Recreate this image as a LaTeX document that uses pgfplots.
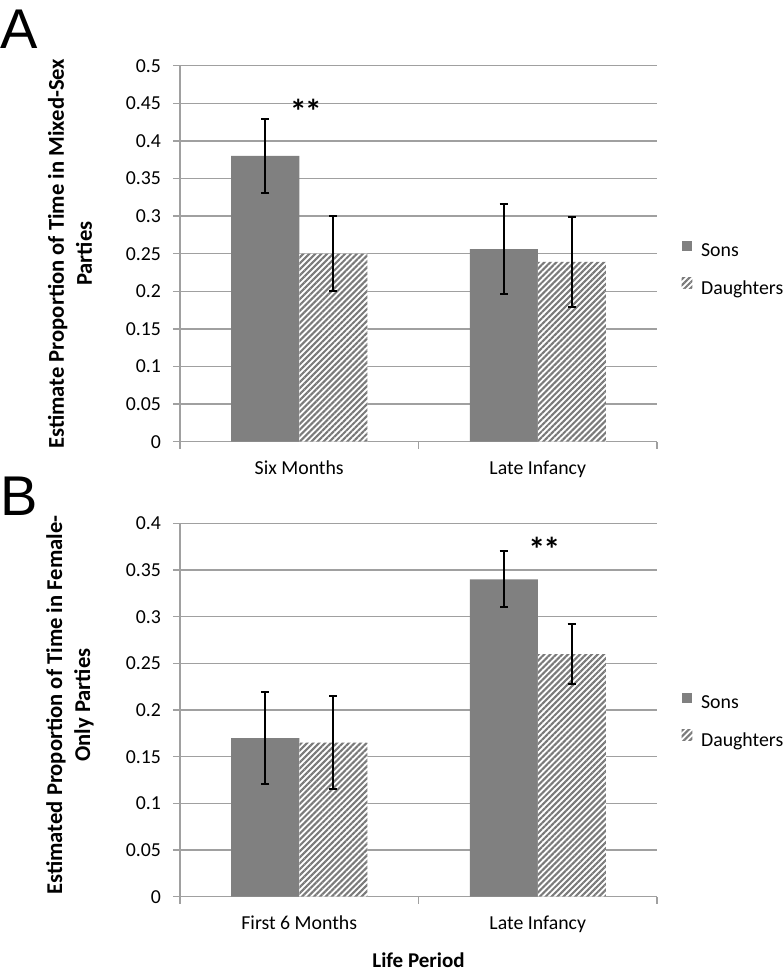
\documentclass[border=0pt]{standalone}
\usepackage{fontspec}
\setmainfont{Carlito}
\newfontfamily\arialfont{Liberation Sans}
\usepackage{pgfplots}
\pgfplotsset{compat=1.18}
\usetikzlibrary{patterns.meta}
\definecolor{gridgray}{HTML}{A0A0A0}
\definecolor{songray}{HTML}{808080}
\definecolor{hatchgray}{HTML}{7A7A7A}
\tikzset{stars/.style={anchor=base, inner sep=0pt, font=\bfseries\fontsize{17}{18}\selectfont}}
\pgfplotsset{
  panel/.style={
    scale only axis, width=238.5pt,
    xmin=-0.5, xmax=1.5, ymin=0,
    axis x line*=bottom, axis y line*=left,
    axis line style={color=gridgray, line width=0.75pt},
    ymajorgrids, grid style={color=gridgray, line width=0.75pt},
    xtick={-0.5,0.5,1.5}, x tick label as interval,
    tick align=outside, major tick length=3.5pt,
    tick style={color=gridgray, line width=0.75pt},
    ybar=0pt, bar width=34pt,
    /pgf/number format/assume math mode=true,
    /pgf/number format/fixed,
    /pgf/number format/precision=2,
    tick label style={font=\fontsize{9.9}{11.7}\selectfont, color=black},
    yticklabel style={xshift=-2.5pt},
    xticklabel style={yshift=-2.5pt},
    ylabel style={font=\bfseries\fontsize{11.3}{14}\selectfont, align=center, anchor=center},
    legend style={draw=none, fill=none, inner sep=0pt, outer sep=0pt,
      font=\fontsize{9.9}{11.7}\selectfont, row sep=6.5pt, column sep=2.4pt,
      legend cell align=left},
    error bars/error bar style={black, line width=1pt},
    error bars/error mark options={rotate=90, mark size=2.1pt, line width=1pt, black},
  },
  sq/.style={legend image code/.code={\path[##1,draw=none] (0pt,0.3pt) rectangle (5.3pt,5.6pt);}},
  sons/.style={fill=songray, draw=none, sq},
  daughters/.style={fill=white, draw=none, pattern color=hatchgray,
    postaction={pattern={Lines[angle=45,distance=2.1pt,line width=1.05pt]}}, sq},
}
\begin{document}
\begin{tikzpicture}
\useasboundingbox (-90pt,-265.65pt) rectangle (301.5pt,220.85pt);
% Panel A
\begin{axis}[panel, at={(0pt,0pt)}, anchor=south west, height=188pt,
  ymax=0.5, ytick={0,0.05,0.1,0.15,0.2,0.25,0.3,0.35,0.4,0.45,0.5},
  xticklabels={Six Months, Late Infancy},
  ylabel={Estimate Proportion of Time in Mixed-Sex\\Parties},
  ylabel style={at={(axis description cs:-0.2306,0.5)}},
  legend style={at={(axis description cs:1.0518,0.455)}, anchor=west},
]
\addplot[sons, error bars/.cd, y dir=both, y explicit] coordinates {
  (0,0.380) +- (0,0.049)
  (1,0.256) +- (0,0.060)
};
\addplot[daughters, error bars/.cd, y dir=both, y explicit] coordinates {
  (0,0.250) +- (0,0.050)
  (1,0.239) +- (0,0.060)
};
\legend{Sons, Daughters}
\node[stars] at (axis cs:0.028,0.423) {*\kern-1pt*};
\end{axis}
% Panel B
\begin{axis}[panel, at={(0pt,-227.5pt)}, anchor=south west, height=186.7pt,
  ymax=0.4, ytick={0,0.05,0.1,0.15,0.2,0.25,0.3,0.35,0.4},
  xticklabels={First 6 Months, Late Infancy},
  ylabel={Estimated Proportion of Time in Female-\\Only Parties},
  ylabel style={at={(axis description cs:-0.2306,0.5134)}},
  xlabel={Life Period},
  xlabel style={font=\bfseries\fontsize{10.5}{14}\selectfont, at={(axis description cs:0.5,-0.1495)}, anchor=north, inner sep=0pt},
  legend style={at={(axis description cs:1.0518,0.466)}, anchor=west},
]
\addplot[sons, error bars/.cd, y dir=both, y explicit] coordinates {
  (0,0.170) +- (0,0.049)
  (1,0.340) +- (0,0.030)
};
\addplot[daughters, error bars/.cd, y dir=both, y explicit] coordinates {
  (0,0.165) +- (0,0.050)
  (1,0.260) +- (0,0.032)
};
\legend{Sons, Daughters}
\node[stars] at (axis cs:1.028,0.359) {*\kern-1pt*};
\end{axis}
\node[anchor=north west, inner sep=0pt, font=\arialfont\fontsize{28}{30}\selectfont] at (-90pt,215.85pt) {A};
\node[anchor=north west, inner sep=0pt, font=\arialfont\fontsize{28}{30}\selectfont] at (-90pt,-17.65pt) {B};
\end{tikzpicture}
\end{document}
